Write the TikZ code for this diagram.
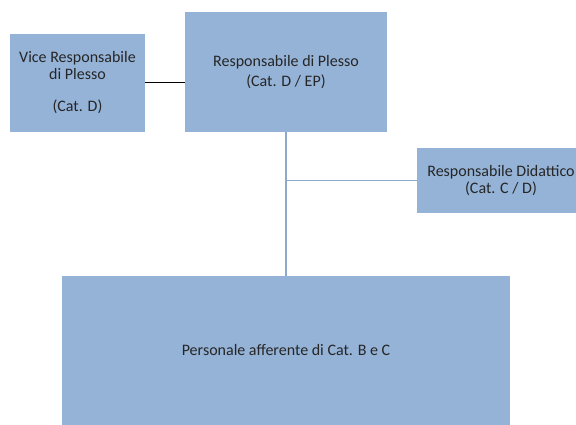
\documentclass[tikz,border=0pt]{standalone}
\usepackage{fontspec}
\setmainfont{Carlito}
\definecolor{boxblue}{RGB}{149,179,215}
\definecolor{linkblue}{RGB}{140,168,202}

\begin{document}
\begin{tikzpicture}[x=1pt, y=-1pt, every node/.style={font=\fontsize{16}{16.5}\selectfont, text=black!85}]
        \pgfdeclarelayer{nodelayer}
        \pgfdeclarelayer{edgelayer}
        \pgfsetlayers{edgelayer,nodelayer}
        \tikzstyle{box}=[fill=boxblue, draw=none, shape=rectangle, inner sep=0pt, align=center]
        \tikzstyle{link}=[draw=linkblue, line width=1.2pt]
        \tikzstyle{side link}=[draw=black, line width=1pt]
        \useasboundingbox (0,0) rectangle (576,425);
        \begin{pgfonlayer}{nodelayer}
            \node [style=box, minimum width=135pt, minimum height=98pt] (vice) at (77.5, 83) {Vice Responsabile\\di Plesso\\[16pt](Cat. D)};
            \node [style=box, minimum width=202pt, minimum height=120pt] (resp) at (286, 72) {Responsabile di Plesso\\[4pt](Cat. D / EP)};
            \node [style=box, minimum width=168pt, minimum height=65pt] (did) at (501, 180.5) {Responsabile Didattico\\(Cat. C / D)};
            \node [style=box, minimum width=448pt, minimum height=149pt] (pers) at (286, 350.5) {Personale afferente di Cat. B e C};
        \end{pgfonlayer}
        \begin{pgfonlayer}{edgelayer}
            \draw [style=side link] (vice.east) to (vice.east -| resp.west);
            \draw [style=link] (resp.south) to (pers.north);
            \draw [style=link] (resp.south |- did.west) to (did.west);
        \end{pgfonlayer}
\end{tikzpicture}
\end{document}
